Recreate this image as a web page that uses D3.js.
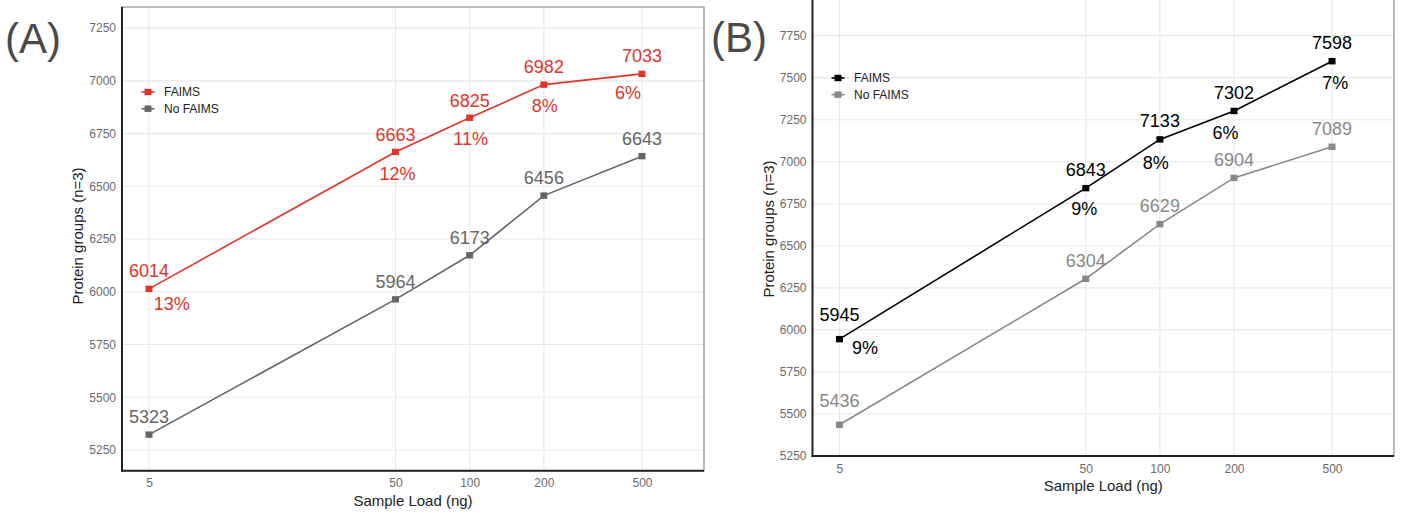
<!DOCTYPE html>
<html><head><meta charset="utf-8">
<script src="https://cdn.jsdelivr.net/npm/d3@7/dist/d3.min.js"></script>
<style>
html,body{margin:0;padding:0;background:#fff;}
svg{display:block;font-family:"Liberation Sans",Arial,sans-serif;}
</style></head>
<body>
<svg id="chart" width="1402" height="513"></svg>
<script>
// ---- data ----
const sampleLoads = [5, 50, 100, 200, 500];
const xTickLabels = ["5", "50", "100", "200", "500"];
const seriesNames = ["FAIMS", "No FAIMS"];

const faimsA = [6014, 6663, 6825, 6982, 7033];
const noFaimsA = [5323, 5964, 6173, 6456, 6643];
const pctA = ["13%", "12%", "11%", "8%", "6%"];
const yTicksA = [5250, 5500, 5750, 6000, 6250, 6500, 6750, 7000, 7250];

const faimsB = [5945, 6843, 7133, 7302, 7598];
const noFaimsB = [5436, 6304, 6629, 6904, 7089];
const pctB = ["9%", "9%", "8%", "6%", "7%"];
const yTicksB = [5250, 5500, 5750, 6000, 6250, 6500, 6750, 7000, 7250, 7500, 7750];

// ---- label nudges (layout, px) ----
const pctNudgeA = [[22.7, 21], [2, 28], [1, 27], [1, 27.8], [-14, 25]];
const pctNudgeB = [[25.5, 15], [-1.5, 26.6], [-4, 29.7], [-8.6, 28], [3.3, 28]];
const valNudgeA = [-12, -11, -11, -11.5, -11.4];
const valNudgeB = [-17.7, -12, -12, -12, -12];

const svg = d3.select("#chart");

function panel(cfg) {
  const g = svg.append("g");
  const x = d3.scaleLog().domain([3.886, 892.5]).range([cfg.left, cfg.right]);
  const y = d3.scaleLinear().domain(cfg.yDomain).range([cfg.bottom, cfg.top]);

  // gridlines
  g.append("g").selectAll("line.h").data(cfg.yTicks).join("line")
    .attr("x1", cfg.left).attr("x2", cfg.right)
    .attr("y1", d => y(d)).attr("y2", d => y(d))
    .attr("stroke", "#e8e8e8").attr("stroke-width", 1.1);
  g.append("g").selectAll("line.v").data(sampleLoads).join("line")
    .attr("x1", d => x(d)).attr("x2", d => x(d))
    .attr("y1", cfg.top).attr("y2", cfg.bottom)
    .attr("stroke", "#e8e8e8").attr("stroke-width", 1.1);

  // border
  g.append("rect").attr("x", cfg.left).attr("y", cfg.top)
    .attr("width", cfg.right - cfg.left).attr("height", cfg.bottom - cfg.top)
    .attr("fill", "none").attr("stroke", "#777").attr("stroke-width", 1);

  // axes
  const yAxis = d3.axisLeft(y).tickValues(cfg.yTicks).tickSize(0).tickPadding(6).tickFormat(d3.format("d"));
  const ya = g.append("g").attr("transform", `translate(${cfg.left},0)`).call(yAxis);
  ya.select(".domain").remove();
  ya.selectAll("text").attr("font-size", 12).attr("fill", "#6b6b6b").attr("font-family", "Liberation Sans, Arial, sans-serif");

  const xAxis = d3.axisBottom(x).tickValues(sampleLoads).tickSize(0).tickPadding(0)
    .tickFormat((d, i) => xTickLabels[i]);
  const xa = g.append("g").attr("transform", `translate(0,${cfg.bottom})`).call(xAxis);
  xa.select(".domain").remove();
  xa.selectAll("text").attr("font-size", 12).attr("fill", "#6b6b6b").attr("dy", null).attr("y", 16.5)
    .attr("font-family", "Liberation Sans, Arial, sans-serif");

  g.append("line").attr("x1", cfg.left).attr("x2", cfg.left).attr("y1", cfg.top).attr("y2", cfg.bottom + 1)
    .attr("stroke", "#222").attr("stroke-width", 2);
  g.append("line").attr("x1", cfg.left - 1).attr("x2", cfg.right).attr("y1", cfg.bottom).attr("y2", cfg.bottom)
    .attr("stroke", "#222").attr("stroke-width", 2);

  // axis titles
  g.append("text").attr("x", (cfg.left + cfg.right) / 2).attr("y", cfg.bottom + 35)
    .attr("text-anchor", "middle").attr("font-size", 15).attr("fill", "#222").text("Sample Load (ng)");
  g.append("text").attr("transform", `translate(${cfg.left - 39},${cfg.yTitleY}) rotate(-90)`)
    .attr("text-anchor", "middle").attr("font-size", 15).attr("fill", "#222").text("Protein groups (n=3)");

  // panel letter
  g.append("text").attr("x", cfg.letterX).attr("y", cfg.letterY).attr("font-size", 42)
    .attr("fill", "#4a4a4a").text(cfg.letter);

  // series
  const line = d3.line().x((d, i) => x(sampleLoads[i])).y(d => y(d));
  const series = [
    {vals: cfg.s2, color: cfg.c2, nudge: cfg.valNudge},
    {vals: cfg.s1, color: cfg.c1, nudge: cfg.valNudge}
  ];
  series.forEach(s => {
    g.append("path").datum(s.vals).attr("d", line).attr("fill", "none")
      .attr("stroke", s.color).attr("stroke-width", 1.6);
    g.append("g").selectAll("rect").data(s.vals).join("rect")
      .attr("x", (d, i) => x(sampleLoads[i]) - 3.5).attr("y", d => y(d) - 3.2)
      .attr("width", 7).attr("height", 6.4).attr("fill", s.color);
    g.append("g").selectAll("text").data(s.vals).join("text")
      .attr("x", (d, i) => x(sampleLoads[i])).attr("y", (d, i) => y(d) + s.nudge[i])
      .attr("text-anchor", "middle").attr("font-size", 18).attr("fill", s.color).text(d => d);
  });
  g.append("g").selectAll("text").data(cfg.pct).join("text")
    .attr("x", (d, i) => x(sampleLoads[i]) + cfg.pctNudge[i][0])
    .attr("y", (d, i) => y(cfg.s1[i]) + cfg.pctNudge[i][1])
    .attr("text-anchor", "middle").attr("font-size", 18).attr("fill", cfg.c1).text(d => d);

  // legend
  const lg = g.append("g");
  [cfg.c1, cfg.c2].forEach((c, i) => {
    const ly = cfg.legY + i * 16.7;
    lg.append("line").attr("x1", cfg.legX - 6.5).attr("x2", cfg.legX + 6.5).attr("y1", ly).attr("y2", ly)
      .attr("stroke", c).attr("stroke-width", 1.6);
    lg.append("rect").attr("x", cfg.legX - 3.5).attr("y", ly - 3.2).attr("width", 7).attr("height", 6.4).attr("fill", c);
    lg.append("text").attr("x", cfg.legX + 16).attr("y", ly + 4.3).attr("font-size", 12).attr("fill", "#222")
      .text(seriesNames[i]);
  });
}

panel({
  left: 122, right: 704, top: 7, bottom: 470.7,
  yDomain: [5152, 7350], yTicks: yTicksA, yTitleY: 236,
  s1: faimsA, s2: noFaimsA, pct: pctA, c1: "#e0352b", c2: "#666666",
  pctNudge: pctNudgeA, valNudge: valNudgeA,
  letter: "(A)", letterX: 5, letterY: 53,
  legX: 148, legY: 92
});
panel({
  left: 812.5, right: 1394, top: -6.4, bottom: 456,
  yDomain: [5250, 8000], yTicks: yTicksB, yTitleY: 229,
  s1: faimsB, s2: noFaimsB, pct: pctB, c1: "#000000", c2: "#888888",
  pctNudge: pctNudgeB, valNudge: valNudgeB,
  letter: "(B)", letterX: 711, letterY: 52,
  legX: 838, legY: 78
});
</script>
</body></html>
